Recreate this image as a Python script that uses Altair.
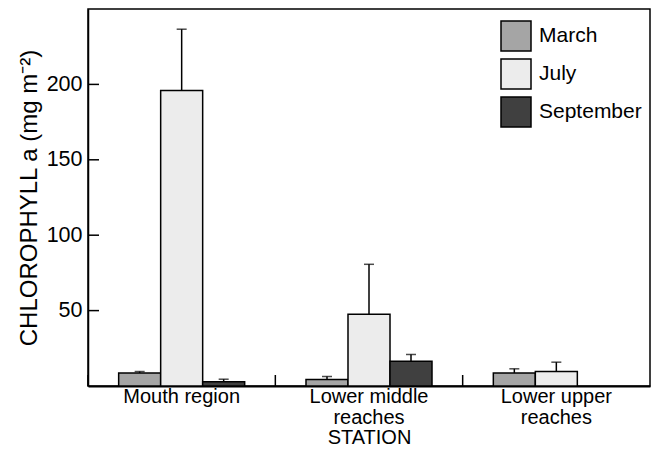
import altair as alt
import pandas as pd

stations = ["Mouth region", "Lower middle|reaches", "Lower upper|reaches"]
months = ["March", "July", "September"]
march_mean = [8.7, 4.3, 8.7]
july_mean = [196.0, 47.6, 9.6]
sept_mean = [2.8, 16.4, None]
march_err = [0.9, 2.0, 2.7]
july_err = [40.6, 33.1, 6.2]
sept_err = [1.7, 4.5, None]
ytick_values = [50, 100, 150, 200]
colors = ["#a5a5a5", "#ececec", "#404040"]

rows = []
for i, s in enumerate(stations):
    for m, means, errs in zip(months, [march_mean, july_mean, sept_mean], [march_err, july_err, sept_err]):
        if means[i] is None:
            continue
        rows.append({"station": s, "month": m, "mean": means[i], "upper": means[i] + errs[i]})
df = pd.DataFrame(rows)
sep_df = pd.DataFrame({"station": stations})
tick_df = pd.DataFrame({"v": ytick_values})

FONT = "Liberation Sans"

x_enc = alt.X(
    "station:N",
    sort=stations,
    scale=alt.Scale(domain=stations, paddingInner=0, paddingOuter=0),
    axis=alt.Axis(
        title="STATION",
        labelAngle=0,
        ticks=False,
        labelExpr="split(datum.label, '|')",
        labelFontSize=20,
        labelLineHeight=21,
        labelPadding=0,
        labelColor="black",
        titleFontSize=20,
        titleFontWeight="normal",
        titleColor="black",
        titlePadding=0,
        domainColor="black",
        domainWidth=2,
    ),
)
xoff = alt.XOffset(
    "month:N",
    sort=months,
    scale=alt.Scale(domain=months, paddingInner=0, paddingOuter=0.73),
)
y_scale = alt.Scale(domain=[0, 250], nice=False, zero=True)
y_enc = alt.Y(
    "mean:Q",
    scale=y_scale,
    axis=alt.Axis(
        title="CHLOROPHYLL a (mg m⁻²)",
        values=ytick_values,
        ticks=False,
        grid=False,
        labelFontSize=21.5,
        labelPadding=6,
        labelColor="black",
        titleFontSize=24,
        titleFontWeight="normal",
        titleColor="black",
        titlePadding=5,
        domainColor="black",
        domainWidth=1.5,
    ),
)

bars = alt.Chart(df).mark_bar(stroke="black", strokeWidth=1.5).encode(
    x=x_enc,
    xOffset=xoff,
    y=y_enc,
    color=alt.Color(
        "month:N",
        scale=alt.Scale(domain=months, range=colors),
        legend=alt.Legend(
            title=None,
            orient="none",
            legendX=412,
            legendY=11,
            symbolType="square",
            symbolSize=900,
            symbolStrokeColor="black",
            symbolStrokeWidth=1.5,
            symbolOpacity=1,
            labelFontSize=21,
            labelColor="black",
            labelOffset=7,
            rowPadding=2,
            padding=0,
        ),
    ),
)

err = alt.Chart(df).mark_rule(color="black", strokeWidth=1.5).encode(
    x=alt.X("station:N", sort=stations),
    xOffset=alt.XOffset("month:N", sort=months),
    y=alt.Y("mean:Q", scale=y_scale),
    y2="upper:Q",
)
caps = alt.Chart(df).mark_tick(color="black", size=10, thickness=1.5, orient="horizontal").encode(
    x=alt.X("station:N", sort=stations),
    xOffset=alt.XOffset("month:N", sort=months),
    y=alt.Y("upper:Q", scale=y_scale),
)
seps = alt.Chart(sep_df).mark_rule(color="black", strokeWidth=1.5).encode(
    x=alt.X("station:N", sort=stations, bandPosition=0),
    y=alt.value(366),
    y2=alt.value(377),
)
yticks = alt.Chart(tick_df).mark_rule(color="black", strokeWidth=1.5).encode(
    y=alt.Y("v:Q", scale=y_scale),
    x=alt.value(0),
    x2=alt.value(11),
)

chart = (
    alt.layer(bars, err, caps, seps, yticks)
    .properties(
        width=562,
        height=377,
        autosize=alt.AutoSizeParams(type="none"),
        padding={"left": 80, "top": 1, "right": 1, "bottom": 62},
    )
    .configure(font=FONT)
    .configure_view(stroke="black", strokeWidth=1.5)
)

chart.save("out.html", embed_options={"renderer": "svg", "actions": False})
